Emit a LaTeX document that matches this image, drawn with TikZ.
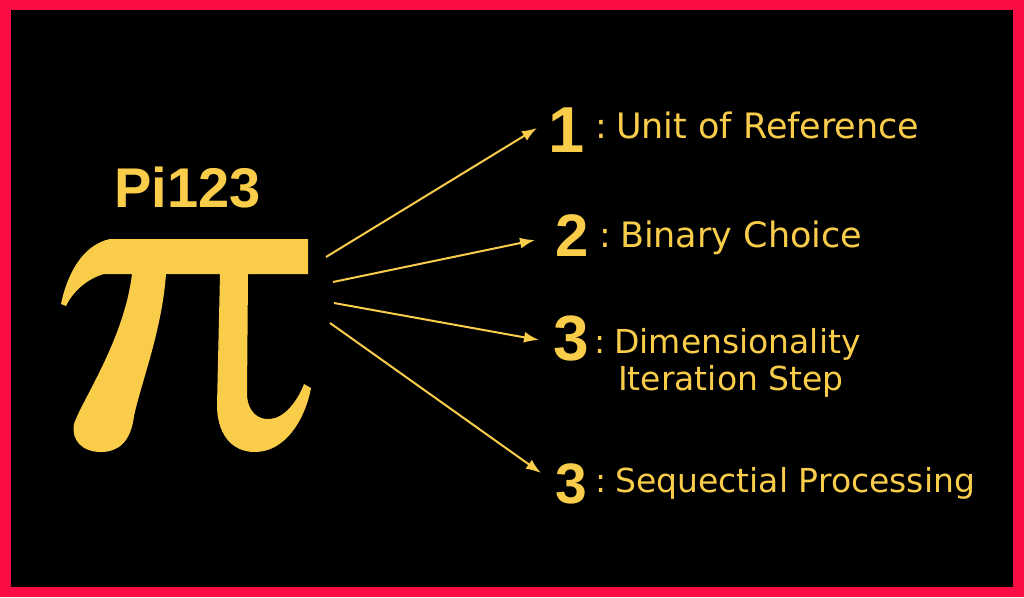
\documentclass[tikz,border=0pt]{standalone}
\usepackage{fontspec}
\setmainfont{DejaVu Sans}
\newfontfamily\numfont{Liberation Sans}
\usetikzlibrary{arrows.meta,positioning}
\definecolor{piyellow}{RGB}{249,204,74}
\definecolor{framered}{RGB}{250,12,68}

\begin{document}
\begin{tikzpicture}[
  x=1pt, y=-1pt,
  num/.style={anchor=base west, inner sep=0pt, text=piyellow, font=\numfont\bfseries\fontsize{64}{64}\selectfont},
  lbl/.style={anchor=base west, inner sep=0pt, text=piyellow, font=\fontsize{33}{37}\selectfont},
  arr/.style={-{Latex[length=15pt,width=11pt]}, line width=2pt, draw=piyellow}
]
\useasboundingbox (0,0) rectangle (1024,597);

% Frame
\fill[framered] (0,0) rectangle (1024,597);
\fill[black] (11,10) rectangle (1013,587);

% Title and the pi sign
\node[num, font=\numfont\bfseries\fontsize{56}{56}\selectfont] (title) at (114,207) {Pi123};
\fill[piyellow] (110,239) -- (308,239) -- (308,274) -- (248,274) -- (247,395)
  .. controls (248,412) and (258,420) .. (270,419)
  .. controls (285,418) and (298,400) .. (304,384) -- (311,388)
  .. controls (305,420) and (285,452) .. (255,452)
  .. controls (230,452) and (217,432) .. (217,405) -- (220,274) -- (166,274)
  .. controls (162,330) and (142,380) .. (134,416)
  .. controls (131,442) and (118,452) .. (101,452)
  .. controls (82,452) and (71,440) .. (74,424)
  .. controls (82,400) and (124,340) .. (132,274) -- (104,274)
  .. controls (86,279) and (72,293) .. (66,306) -- (61,304)
  .. controls (67,275) and (82,245) .. (110,239) -- cycle;

% Start points at the pi sign
\coordinate (s1) at (326,257);
\coordinate (s2) at (333,282);
\coordinate (s3) at (334,303);
\coordinate (s4) at (330,323);

% Numbers
\node[num, font=\numfont\bfseries\fontsize{65}{65}\selectfont] (n1) at (548,152) {1};
\node[num, font=\numfont\bfseries\fontsize{60}{60}\selectfont] (n2) at (555,256) {2};
\node[num] (n3) at (553,360) {3};
\node[num, font=\numfont\bfseries\fontsize{57}{57}\selectfont] (n4) at (555,503) {3};

% Labels
\node[lbl, font=\fontsize{35}{35}\selectfont] (l1) at (595,138) {:\hspace{9pt}Unit of Reference};
\node[lbl, font=\fontsize{35}{35}\selectfont] (l2) at (599,247) {:\hspace{9pt}Binary Choice};
\node[lbl] (l3) at (594,353) {:\hspace{9pt}Dimensionality};
\node[lbl] (l3b) at (618,390) {Iteration Step};
\node[lbl] (l4) at (595,492) {:\hspace{9pt}Sequectial Processing};

% Arrow tips
\coordinate (t1) at (537,128);
\coordinate (t2) at (535,240);
\coordinate (t3) at (539,340);
\coordinate (t4) at (541,473);

% Arrows
\draw[arr] (s1) -- (t1);
\draw[arr] (s2) -- (t2);
\draw[arr] (s3) -- (t3);
\draw[arr] (s4) -- (t4);

\end{tikzpicture}
\end{document}
